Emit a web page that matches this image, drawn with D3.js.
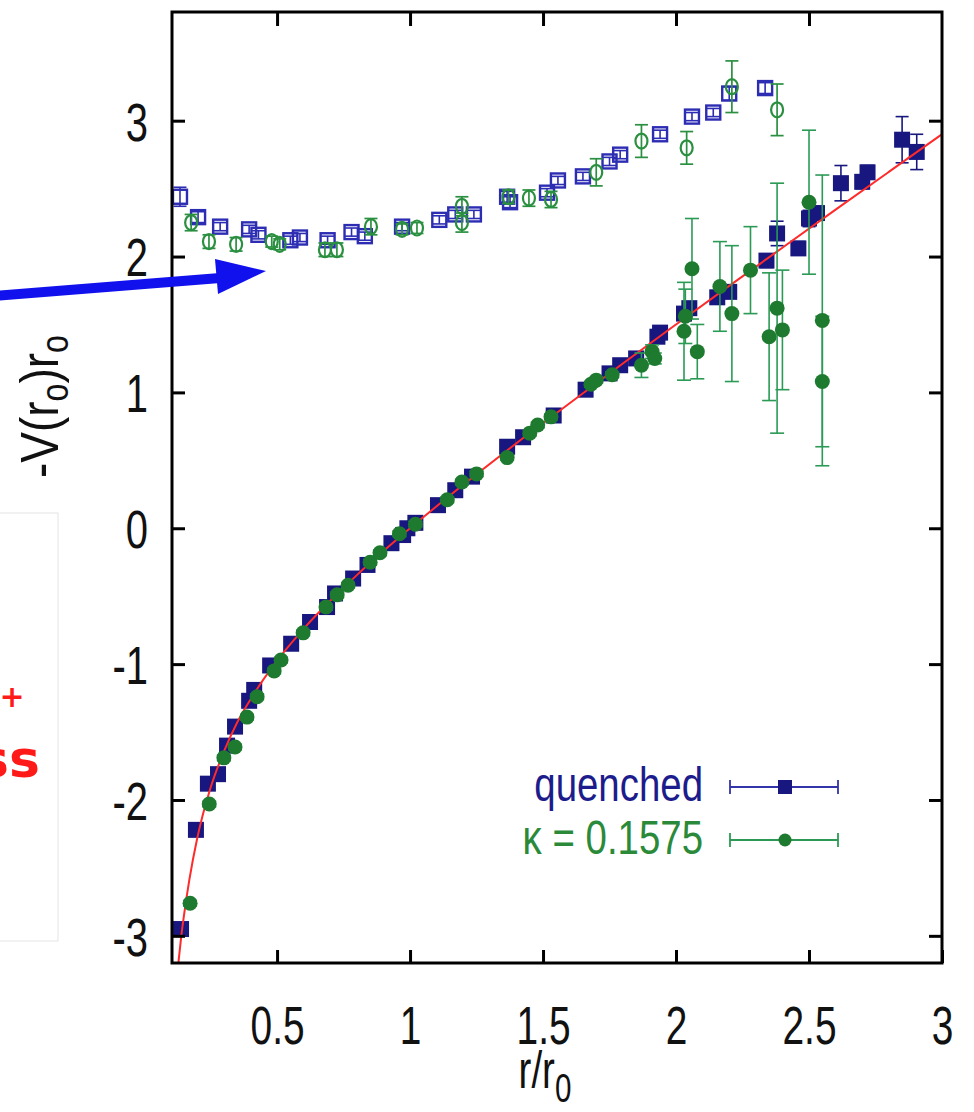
<!DOCTYPE html>
<html>
<head>
<meta charset="utf-8">
<script src="https://cdn.jsdelivr.net/npm/d3@7"></script>
<style>
  body { margin: 0; background: #fff; }
  svg { display: block; }
</style>
</head>
<body>
<svg width="974" height="1112"></svg>
<script>
const width = 974;
const height = 1112;

// frame of the plot in pixels
const frameL = 172, frameR = 942, frameT = 12, frameB = 963;

// open squares: quenched force
const quenchedForceR = [0.135, 0.203, 0.286, 0.395, 0.43, 0.55, 0.586, 0.69, 0.78, 0.83, 0.97, 1.11, 1.17, 1.24, 1.365, 1.376, 1.515, 1.556, 1.65, 1.75, 1.79, 1.94, 2.06, 2.14, 2.20, 2.335];
const quenchedForceV = [2.44, 2.29, 2.22, 2.20, 2.16, 2.12, 2.14, 2.12, 2.18, 2.15, 2.22, 2.27, 2.31, 2.31, 2.44, 2.40, 2.47, 2.56, 2.59, 2.70, 2.75, 2.90, 3.03, 3.06, 3.20, 3.24];
const quenchedForceErr = [0.07, 0.04, 0.03, 0.03, 0.03, 0.03, 0.03, 0.03, 0.03, 0.03, 0.03, 0.03, 0.03, 0.03, 0.04, 0.04, 0.03, 0.03, 0.03, 0.03, 0.03, 0.03, 0.03, 0.03, 0.05, 0.04];

// open circles: kappa = 0.1575 force
const kappaForceR = [0.177, 0.244, 0.346, 0.48, 0.51, 0.68, 0.725, 0.853, 0.97, 1.026, 1.195, 1.195, 1.37, 1.447, 1.53, 1.70, 1.87, 2.04, 2.21, 2.38];
const kappaForceV = [2.25, 2.11, 2.09, 2.11, 2.09, 2.05, 2.05, 2.22, 2.20, 2.21, 2.37, 2.25, 2.44, 2.43, 2.42, 2.62, 2.85, 2.80, 3.25, 3.08];
const kappaForceErr = [0.06, 0.05, 0.05, 0.04, 0.04, 0.05, 0.05, 0.06, 0.04, 0.04, 0.07, 0.07, 0.05, 0.06, 0.06, 0.10, 0.12, 0.12, 0.19, 0.19];

// filled squares: quenched potential
const quenchedPotR = [0.139, 0.195, 0.24, 0.278, 0.312, 0.342, 0.395, 0.414, 0.474, 0.553, 0.624, 0.688, 0.718, 0.786, 0.84, 0.93, 0.974, 0.99, 1.02, 1.105, 1.17, 1.233, 1.365, 1.425, 1.54, 1.66, 1.75, 1.79, 1.85, 1.93, 1.94, 2.03, 2.05, 2.155, 2.20, 2.34, 2.38, 2.46, 2.50, 2.53, 2.62, 2.70, 2.72, 2.85, 2.905];
const quenchedPotV = [-2.95, -2.22, -1.88, -1.81, -1.60, -1.46, -1.27, -1.19, -1.01, -0.85, -0.69, -0.58, -0.48, -0.37, -0.27, -0.11, -0.05, 0.0, 0.04, 0.17, 0.28, 0.38, 0.60, 0.67, 0.83, 1.02, 1.14, 1.20, 1.25, 1.41, 1.44, 1.58, 1.62, 1.70, 1.74, 1.97, 2.17, 2.06, 2.28, 2.32, 2.54, 2.55, 2.62, 2.86, 2.77];
const quenchedPotErr = [0.02, 0.02, 0.02, 0.02, 0.02, 0.02, 0.02, 0.02, 0.02, 0.02, 0.02, 0.02, 0.02, 0.02, 0.02, 0.02, 0.02, 0.02, 0.02, 0.02, 0.02, 0.02, 0.02, 0.02, 0.02, 0.02, 0.02, 0.02, 0.02, 0.02, 0.02, 0.02, 0.02, 0.02, 0.02, 0.05, 0.09, 0.05, 0.06, 0.05, 0.13, 0.05, 0.05, 0.17, 0.13];

// filled circles: kappa = 0.1575 potential
const kappaPotR = [0.173, 0.245, 0.30, 0.342, 0.387, 0.425, 0.489, 0.515, 0.598, 0.684, 0.726, 0.767, 0.85, 0.887, 0.96, 1.02, 1.14, 1.195, 1.25, 1.365, 1.45, 1.48, 1.53, 1.68, 1.70, 1.76, 1.87, 1.91, 1.92, 2.03, 2.035, 2.06, 2.08, 2.165, 2.21, 2.28, 2.35, 2.38, 2.40, 2.50, 2.55, 2.55];
const kappaPotV = [-2.76, -2.03, -1.69, -1.61, -1.39, -1.24, -1.05, -0.97, -0.77, -0.58, -0.49, -0.42, -0.25, -0.18, -0.04, 0.03, 0.21, 0.34, 0.40, 0.52, 0.70, 0.76, 0.82, 1.06, 1.09, 1.13, 1.20, 1.30, 1.25, 1.45, 1.56, 1.91, 1.30, 1.78, 1.58, 1.90, 1.41, 1.62, 1.46, 2.40, 1.53, 1.08];
const kappaPotErr = [0.02, 0.02, 0.02, 0.02, 0.02, 0.02, 0.02, 0.02, 0.02, 0.02, 0.02, 0.02, 0.02, 0.02, 0.02, 0.02, 0.02, 0.02, 0.02, 0.02, 0.02, 0.02, 0.02, 0.02, 0.02, 0.02, 0.09, 0.05, 0.04, 0.36, 0.20, 0.37, 0.20, 0.33, 0.50, 0.32, 0.47, 0.92, 0.44, 0.53, 1.07, 0.48];

// red fit curve
const fitR = [0.12, 0.13, 0.14, 0.15, 0.17, 0.2, 0.25, 0.3, 0.35, 0.4, 0.5, 0.6, 0.7, 0.8, 0.9, 1.0, 1.2, 1.4, 1.6, 1.8, 2.0, 2.2, 2.4, 2.6, 2.8, 3.0];
const fitV = [-3.39, -3.18, -3.00, -2.85, -2.59, -2.28, -1.91, -1.645, -1.43, -1.26, -0.975, -0.74, -0.534, -0.345, -0.168, 0, 0.32, 0.626, 0.92, 1.213, 1.50, 1.784, 2.065, 2.345, 2.623, 2.90];

const xTicks = [0.5, 1, 1.5, 2, 2.5, 3];
const xTopTicks = [0.5, 1, 1.5, 2, 2.5];
const yTicks = [-3, -2, -1, 0, 1, 2, 3];

const quenchedLabel = "quenched";
const kappaLabel = "κ = 0.1575";

const navy = "#17177f";
const blueOpen = "#2d2db4";
const greenFill = "#1d7a2e";
const greenOpen = "#2a9040";
const greenBar = "#2a9a55";
const tickFont = "'Liberation Sans', Arial, sans-serif";

const svg = d3.select("svg")
    .attr("width", width)
    .attr("height", height)
    .style("background", "#fff");

const x = d3.scaleLinear().domain([0.105, 3]).range([frameL, frameR]);
const y = d3.scaleLinear().domain([-3.2, 3.8]).range([frameB, frameT]);

const zip = (rs, vs, es) => rs.map((r, i) => ({ r, v: vs[i], e: es[i] }));

// the original uses a narrow Helvetica: squeeze glyphs horizontally
function squeeze(sel, k) {
    sel.each(function () {
        const len = this.getComputedTextLength();
        d3.select(this).attr("textLength", len * k).attr("lengthAdjust", "spacingAndGlyphs");
    });
}

svg.append("defs").append("clipPath").attr("id", "plotClip")
    .append("rect")
    .attr("x", frameL).attr("y", frameT)
    .attr("width", frameR - frameL).attr("height", frameB - frameT);

const plot = svg.append("g").attr("clip-path", "url(#plotClip)");

function errorBars(g, data, color, capW, sw) {
    const bars = g.append("g").selectAll("g")
        .data(data)
        .enter()
        .append("g")
        .attr("stroke", color)
        .attr("stroke-width", sw)
        .attr("fill", "none");
    bars.append("line")
        .attr("x1", d => x(d.r)).attr("x2", d => x(d.r))
        .attr("y1", d => y(d.v - d.e)).attr("y2", d => y(d.v + d.e));
    bars.append("line")
        .attr("x1", d => x(d.r) - capW / 2).attr("x2", d => x(d.r) + capW / 2)
        .attr("y1", d => y(d.v - d.e)).attr("y2", d => y(d.v - d.e));
    bars.append("line")
        .attr("x1", d => x(d.r) - capW / 2).attr("x2", d => x(d.r) + capW / 2)
        .attr("y1", d => y(d.v + d.e)).attr("y2", d => y(d.v + d.e));
}

// upper set: forces
const qForce = zip(quenchedForceR, quenchedForceV, quenchedForceErr);
const kForce = zip(kappaForceR, kappaForceV, kappaForceErr);

errorBars(plot, qForce, blueOpen, 13, 1.6);
plot.append("g").selectAll("rect")
    .data(qForce)
    .enter()
    .append("rect")
    .attr("x", d => x(d.r) - 7)
    .attr("y", d => y(d.v) - 7)
    .attr("width", 14)
    .attr("height", 14)
    .attr("fill", "none")
    .attr("stroke", blueOpen)
    .attr("stroke-width", 2.4);

errorBars(plot, kForce, greenOpen, 13, 1.7);
plot.append("g").selectAll("ellipse")
    .data(kForce)
    .enter()
    .append("ellipse")
    .attr("cx", d => x(d.r))
    .attr("cy", d => y(d.v))
    .attr("rx", 6)
    .attr("ry", 7.5)
    .attr("fill", "none")
    .attr("stroke", greenOpen)
    .attr("stroke-width", 2.2);

// lower set: potentials
const qPot = zip(quenchedPotR, quenchedPotV, quenchedPotErr);
const kPot = zip(kappaPotR, kappaPotV, kappaPotErr);

errorBars(plot, qPot, navy, 13, 1.6);
plot.append("g").selectAll("rect")
    .data(qPot)
    .enter()
    .append("rect")
    .attr("x", d => x(d.r) - 8)
    .attr("y", d => y(d.v) - 8)
    .attr("width", 16)
    .attr("height", 16)
    .attr("fill", navy);

plot.append("path")
    .datum(fitR.map((r, i) => ({ r, v: fitV[i] })))
    .attr("fill", "none")
    .attr("stroke", "#ff2a2a")
    .attr("stroke-width", 2)
    .attr("d", d3.line().x(d => x(d.r)).y(d => y(d.v)).curve(d3.curveMonotoneX));

errorBars(plot, kPot, greenBar, 14, 1.6);
plot.append("g").selectAll("circle")
    .data(kPot)
    .enter()
    .append("circle")
    .attr("cx", d => x(d.r))
    .attr("cy", d => y(d.v))
    .attr("r", 7.5)
    .attr("fill", greenFill);

// axes with inward ticks
function styleAxis(g) {
    g.select(".domain").remove();
    g.selectAll(".tick line").attr("stroke", "#000").attr("stroke-width", 3);
    g.selectAll("text")
        .attr("fill", "#111")
        .style("font-family", tickFont)
        .style("font-size", "54px");
}

svg.append("g")
    .attr("transform", `translate(0,${frameB})`)
    .call(d3.axisBottom(x).tickValues(xTicks).tickSize(-13).tickSizeOuter(0).tickFormat(d => String(d)))
    .call(styleAxis)
    .call(g => g.selectAll("text").attr("y", 81).attr("dy", 0))
    .call(g => squeeze(g.selectAll("text"), 0.72));

svg.append("g")
    .attr("transform", `translate(0,${frameT})`)
    .call(d3.axisTop(x).tickValues(xTopTicks).tickSize(-14).tickSizeOuter(0).tickFormat(""))
    .call(styleAxis);

svg.append("g")
    .attr("transform", `translate(${frameL},0)`)
    .call(d3.axisLeft(y).tickValues(yTicks).tickSize(-13).tickSizeOuter(0).tickPadding(24).tickFormat(d => String(d)))
    .call(styleAxis)
    .call(g => g.selectAll("text").attr("dy", "0.36em"))
    .call(g => squeeze(g.selectAll("text"), 0.74));

svg.append("g")
    .attr("transform", `translate(${frameR},0)`)
    .call(d3.axisRight(y).tickValues(yTicks).tickSize(-13).tickSizeOuter(0).tickFormat(""))
    .call(styleAxis);

svg.append("rect")
    .attr("x", frameL).attr("y", frameT)
    .attr("width", frameR - frameL).attr("height", frameB - frameT)
    .attr("fill", "none")
    .attr("stroke", "#000")
    .attr("stroke-width", 3);

// axis titles
const xTitle = svg.append("text")
    .attr("transform", "translate(545,1088) scale(0.74,1)")
    .attr("text-anchor", "middle")
    .attr("fill", "#111")
    .style("font-family", tickFont)
    .style("font-size", "52px");
xTitle.append("tspan").text("r/r");
xTitle.append("tspan").attr("dy", 14).style("font-size", "40px").text("0");

const yTitle = svg.append("text")
    .attr("transform", "translate(58,478) rotate(-90) scale(0.85,1)")
    .attr("fill", "#111")
    .style("font-family", tickFont)
    .style("font-size", "54px");
yTitle.append("tspan").text("-V(r");
yTitle.append("tspan").attr("dy", 10).style("font-size", "38px").text("o");
yTitle.append("tspan").attr("dy", -10).text(")r");
yTitle.append("tspan").attr("dy", 10).style("font-size", "38px").text("o");

// legend
const legend = svg.append("g");
const legendRows = [
    { label: quenchedLabel, color: navy, textColor: "#1c1c8c", y: 787, shape: "square" },
    { label: kappaLabel, color: greenFill, textColor: "#2a8a3a", y: 840, shape: "circle" }
];
legendRows.forEach(row => {
    legend.append("text")
        .attr("x", 703)
        .attr("y", row.y + 14)
        .attr("text-anchor", "end")
        .attr("fill", row.textColor)
        .style("font-family", tickFont)
        .style("font-size", "48px")
        .text(row.label)
        .call(t => squeeze(t, 0.8));
    const lg = legend.append("g").attr("stroke", row.shape === "square" ? "#3333aa" : greenBar).attr("stroke-width", 1.8);
    lg.append("line").attr("x1", 730).attr("x2", 838).attr("y1", row.y).attr("y2", row.y);
    lg.append("line").attr("x1", 730).attr("x2", 730).attr("y1", row.y - 7).attr("y2", row.y + 7);
    lg.append("line").attr("x1", 838).attr("x2", 838).attr("y1", row.y - 7).attr("y2", row.y + 7);
    if (row.shape === "square") {
        legend.append("rect").attr("x", 778).attr("y", row.y - 7).attr("width", 14).attr("height", 14).attr("fill", row.color);
    } else {
        legend.append("circle").attr("cx", 785).attr("cy", row.y).attr("r", 6.5).attr("fill", row.color);
    }
});

// overlay pieces from the slide this chart sits in
svg.append("rect")
    .attr("x", -2).attr("y", 513)
    .attr("width", 60).attr("height", 428)
    .attr("fill", "#fff")
    .attr("stroke", "#e4e4e4")
    .attr("stroke-width", 1);

svg.append("text")
    .attr("x", 12).attr("y", 707)
    .attr("text-anchor", "middle")
    .attr("fill", "#ff1a1a")
    .style("font-family", "'DejaVu Sans', sans-serif")
    .style("font-weight", "bold")
    .style("font-size", "30px")
    .text("+");

svg.append("text")
    .attr("x", 40).attr("y", 777)
    .attr("text-anchor", "end")
    .attr("fill", "#ff1a1a")
    .style("font-family", "'DejaVu Sans', sans-serif")
    .style("font-weight", "bold")
    .style("font-size", "52px")
    .text("ss");

// blue arrow
svg.append("line")
    .attr("x1", -5).attr("y1", 296)
    .attr("x2", 220).attr("y2", 278)
    .attr("stroke", "#1111ee")
    .attr("stroke-width", 10);
svg.append("path")
    .attr("d", "M215,259 L266,271 L218,294 Z")
    .attr("fill", "#1111ee");
</script>
</body>
</html>
